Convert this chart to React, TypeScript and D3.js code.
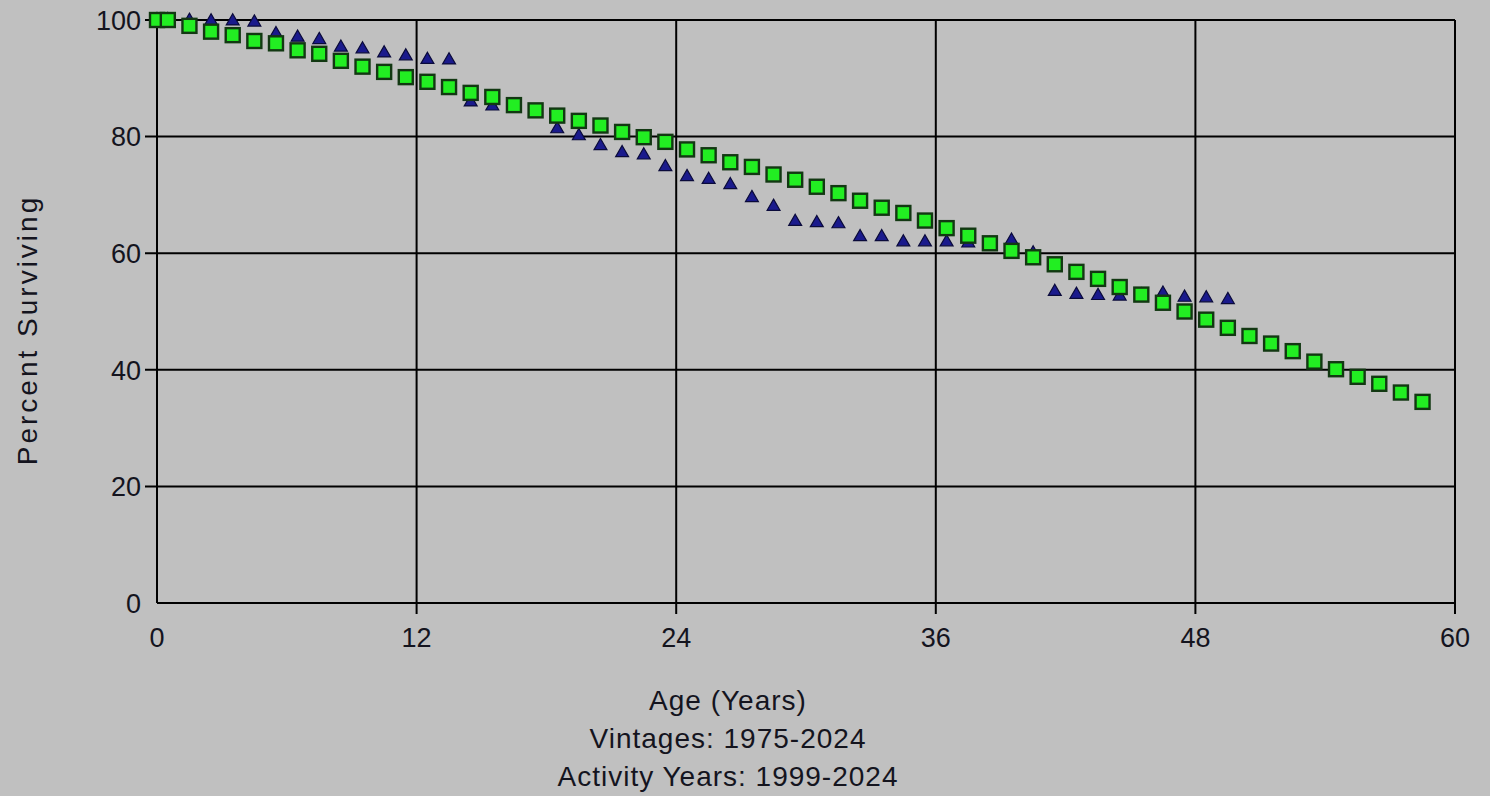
import React from "react";
import * as d3 from "d3";

const squareAges = [0, 0.5, 1.5, 2.5, 3.5, 4.5, 5.5, 6.5, 7.5, 8.5, 9.5, 10.5, 11.5, 12.5, 13.5, 14.5, 15.5, 16.5, 17.5, 18.5, 19.5, 20.5, 21.5, 22.5, 23.5, 24.5, 25.5, 26.5, 27.5, 28.5, 29.5, 30.5, 31.5, 32.5, 33.5, 34.5, 35.5, 36.5, 37.5, 38.5, 39.5, 40.5, 41.5, 42.5, 43.5, 44.5, 45.5, 46.5, 47.5, 48.5, 49.5, 50.5, 51.5, 52.5, 53.5, 54.5, 55.5, 56.5, 57.5, 58.5];
const squareValues = [100, 100, 99.0, 98.0, 97.4, 96.4, 96.0, 94.8, 94.2, 93.0, 92.0, 91.1, 90.2, 89.4, 88.5, 87.5, 86.8, 85.4, 84.5, 83.6, 82.7, 81.9, 80.8, 79.9, 79.1, 77.8, 76.8, 75.6, 74.8, 73.5, 72.6, 71.4, 70.3, 69.0, 67.8, 66.9, 65.6, 64.3, 63.0, 61.7, 60.4, 59.3, 58.1, 56.8, 55.6, 54.2, 52.9, 51.5, 50.0, 48.6, 47.2, 45.8, 44.5, 43.2, 41.4, 40.1, 38.8, 37.6, 36.1, 34.5];

const triangleAges = [0, 0.5, 1.5, 2.5, 3.5, 4.5, 5.5, 6.5, 7.5, 8.5, 9.5, 10.5, 11.5, 12.5, 13.5, 14.5, 15.5, 16.5, 17.5, 18.5, 19.5, 20.5, 21.5, 22.5, 23.5, 24.5, 25.5, 26.5, 27.5, 28.5, 29.5, 30.5, 31.5, 32.5, 33.5, 34.5, 35.5, 36.5, 37.5, 38.5, 39.5, 40.5, 41.5, 42.5, 43.5, 44.5, 45.5, 46.5, 47.5, 48.5, 49.5];
const triangleValues = [100, 100, 99.9, 99.8, 99.8, 99.6, 97.6, 97.0, 96.6, 95.3, 95.0, 94.3, 93.8, 93.2, 93.1, 85.9, 85.2, 84.9, 84.0, 81.3, 80.1, 78.4, 77.2, 76.8, 74.8, 73.1, 72.6, 71.7, 69.5, 68.0, 65.4, 65.2, 65.0, 62.8, 62.8, 61.9, 61.9, 61.9, 61.7, 61.6, 62.2, 60.0, 53.4, 52.9, 52.7, 52.6, 52.8, 53.1, 52.4, 52.3, 52.0];

const xTicks = [0, 12, 24, 36, 48, 60];
const yTicks = [0, 20, 40, 60, 80, 100];
const yLabel = "Percent Surviving";
const xLabelLines = ["Age (Years)", "Vintages: 1975-2024", "Activity Years: 1999-2024"];

const W = 1490;
const H = 796;
const FONT = "'Liberation Sans', Arial, sans-serif";

export default function App() {
  const x = d3.scaleLinear().domain([0, 60]).range([157, 1455]);
  const y = d3.scaleLinear().domain([0, 100]).range([603, 20]);
  const tri = d3.symbol().type(d3.symbolTriangle).size(72)();

  return (
    <svg width={W} height={H} style={{ position: "absolute", left: 0, top: 0, background: "#c0c0c0" }}>
      <rect x={0} y={0} width={W} height={H} fill="#c0c0c0" />
      {yTicks.map((t) => (
        <line key={"gy" + t} x1={t === 0 ? x(0) : x(0) - 12} x2={x(60)} y1={y(t)} y2={y(t)} stroke="#000" strokeWidth={2} />
      ))}
      {xTicks.map((t) => (
        <line key={"gx" + t} x1={x(t)} x2={x(t)} y1={y(100)} y2={t === 0 ? y(0) : y(0) + 11} stroke="#000" strokeWidth={2} />
      ))}
      {yTicks.map((t) => (
        <text key={"ly" + t} x={141} y={y(t)} dy="0.36em" textAnchor="end" fontFamily={FONT} fontSize={27} fill="#14141e">
          {t}
        </text>
      ))}
      {xTicks.map((t) => (
        <text key={"lx" + t} x={x(t)} y={647} textAnchor="middle" fontFamily={FONT} fontSize={27} fill="#14141e">
          {t}
        </text>
      ))}
      {triangleAges.map((a, i) => (
        <path key={"t" + i} d={tri} transform={`translate(${x(a)},${y(triangleValues[i])})`} fill="#1a1a8c" stroke="#0a0a3a" strokeWidth={1.2} />
      ))}
      {squareAges.map((a, i) => (
        <rect key={"s" + i} x={x(a) - 7} y={y(squareValues[i]) - 7} width={14} height={14} fill="#22ee22" stroke="#123812" strokeWidth={2.4} />
      ))}
      <text transform={`translate(37,330) rotate(-90)`} textAnchor="middle" fontFamily={FONT} fontSize={28} letterSpacing={3} fill="#14141e">
        {yLabel}
      </text>
      {xLabelLines.map((s, i) => (
        <text key={"xl" + i} x={728} y={710 + i * 38} textAnchor="middle" fontFamily={FONT} fontSize={28} letterSpacing={1} fill="#14141e">
          {s}
        </text>
      ))}
    </svg>
  );
}
